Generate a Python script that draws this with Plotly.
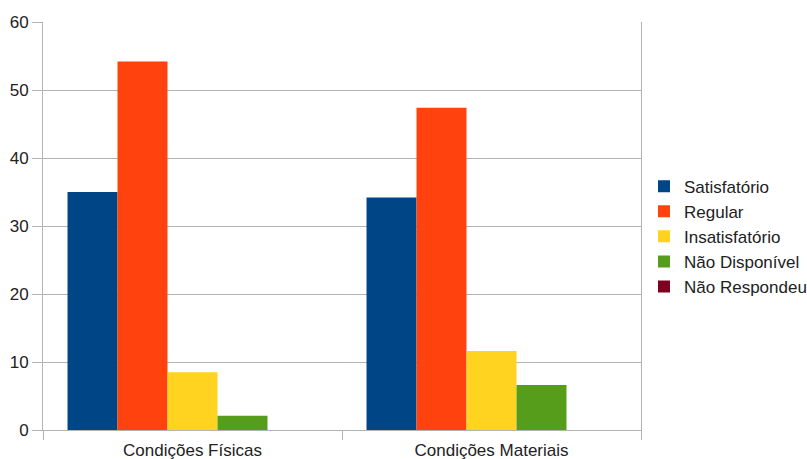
import plotly.graph_objects as go

categories = ["Condições Físicas", "Condições Materiais"]
series_names = ["Satisfatório", "Regular", "Insatisfatório", "Não Disponível", "Não Respondeu"]
satisfatorio = [35.0, 34.2]
regular = [54.2, 47.4]
insatisfatorio = [8.5, 11.6]
nao_disponivel = [2.1, 6.6]
nao_respondeu = [0, 0]
colors = ["#004586", "#ff420e", "#ffd320", "#579d1c", "#7e0021"]
y_ticks = [0, 10, 20, 30, 40, 50, 60]

values = [satisfatorio, regular, insatisfatorio, nao_disponivel, nao_respondeu]

fig = go.Figure()
for name, vals, col in zip(series_names, values, colors):
    fig.add_trace(go.Bar(x=categories, y=vals, name=name,
                         marker=dict(color=col, line=dict(width=0))))

font_family = "Liberation Sans, Arial, sans-serif"
fig.update_layout(
    width=807, height=459,
    margin=dict(l=43, r=166, t=22, b=29, autoexpand=False),
    paper_bgcolor="white", plot_bgcolor="white",
    barmode="group", bargap=0.164, bargroupgap=0,
    font=dict(family=font_family, size=17, color="#222222"),
    legend=dict(x=1.005, y=0.474, xanchor="left", yanchor="middle",
                font=dict(size=17), tracegroupgap=0, itemwidth=30),
    showlegend=True,
)
fig.update_xaxes(
    type="category", tickson="boundaries", ticks="outside", ticklen=9,
    tickcolor="#b3b3b3", showline=True, linecolor="#b3b3b3", linewidth=1,
    mirror=False, showgrid=False, ticklabelstandoff=5,
)
fig.update_yaxes(
    range=[0, 60], tickvals=y_ticks, ticks="outside", ticklen=10,
    tickcolor="#b3b3b3", showline=True, linecolor="#b3b3b3", linewidth=1,
    mirror=True, showgrid=True, gridcolor="#b3b3b3", gridwidth=1,
    zeroline=False,
)

fig.write_html("out.html")
